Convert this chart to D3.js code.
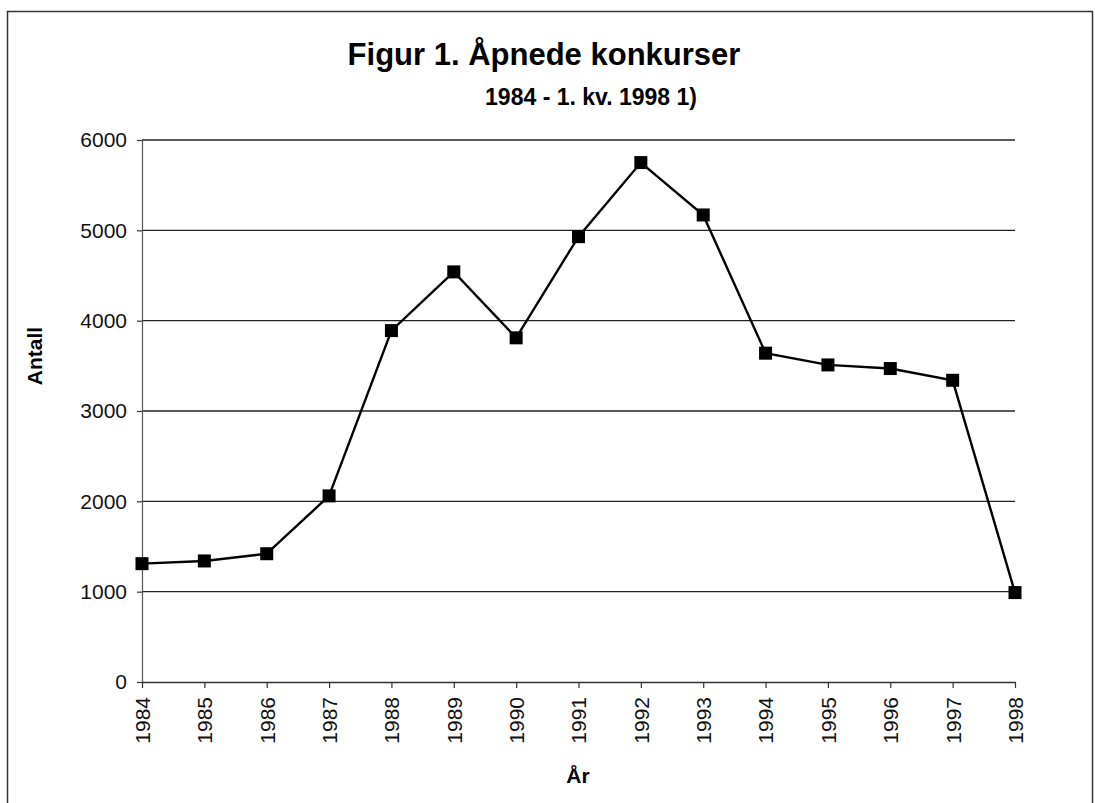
<!DOCTYPE html>
<html lang="no">
    <head>
        <meta charset="UTF-8">
        <title>Figur 1. Åpnede konkurser</title>
        <script src="https://d3js.org/d3.v7.min.js"></script>
        <style>
            body { margin: 0; background: #fff; }
            svg { display: block; font-family: "Liberation Sans", Arial, sans-serif; }
        </style>
    </head>
    <body>
        <script>
            // data
            const years = ["1984","1985","1986","1987","1988","1989","1990","1991","1992","1993","1994","1995","1996","1997","1998"]
            const antall = [1310, 1340, 1420, 2060, 3890, 4540, 3810, 4930, 5750, 5170, 3640, 3510, 3470, 3340, 990]
            const yTicks = [0, 1000, 2000, 3000, 4000, 5000, 6000]

            const W = 1095, H = 803
            const svg = d3.select("body").append("svg")
                .attr("width", W).attr("height", H)

            // frame
            svg.append("rect")
                .attr("x", 7.5).attr("y", 11.5)
                .attr("width", 1085).attr("height", 820)
                .attr("fill", "none").attr("stroke", "#333").attr("stroke-width", 1.5)

            const x = d3.scalePoint().domain(years).range([142, 1015])
            const y = d3.scaleLinear().domain([0, 6000]).range([682, 140])

            // gridlines
            svg.append("g").selectAll("line")
                .data(yTicks.filter(d => d > 0))
                .enter().append("line")
                .attr("x1", 142).attr("x2", 1015)
                .attr("y1", d => y(d)).attr("y2", d => y(d))
                .attr("stroke", "#222").attr("stroke-width", 1.4)

            const yAxis = d3.axisLeft(y).tickValues(yTicks).tickFormat(d3.format("d")).tickSize(5).tickPadding(10)
            const gy = svg.append("g").attr("transform", "translate(142,0)").call(yAxis)
            gy.select(".domain").attr("stroke", "#555").attr("stroke-width", 1.2)
            gy.selectAll(".tick line").attr("stroke", "#333").attr("stroke-width", 1.2)
            gy.selectAll("text").attr("font-size", 21).attr("fill", "#111")
                .attr("font-family", "Liberation Sans, Arial, sans-serif")

            const xAxis = d3.axisBottom(x).tickSize(6).tickSizeOuter(0)
            const gx = svg.append("g").attr("transform", "translate(0,682)").call(xAxis)
            gx.select(".domain").attr("stroke", "#333").attr("stroke-width", 1.6)
            gx.selectAll(".tick line").attr("stroke", "#333").attr("stroke-width", 1.2)
            gx.selectAll("text")
                .attr("font-size", 21).attr("fill", "#111")
                .attr("font-family", "Liberation Sans, Arial, sans-serif")
                .attr("transform", "rotate(-90)")
                .attr("text-anchor", "end")
                .attr("dy", "0.35em")
                .attr("x", -15).attr("y", 0)

            // series
            const line = d3.line().x((d, i) => x(years[i])).y(d => y(d))
            svg.append("path").datum(antall)
                .attr("d", line)
                .attr("fill", "none").attr("stroke", "#000").attr("stroke-width", 2.4)

            svg.append("g").selectAll("rect")
                .data(antall)
                .enter().append("rect")
                .attr("x", (d, i) => x(years[i]) - 6.5)
                .attr("y", d => y(d) - 6.5)
                .attr("width", 13).attr("height", 13)
                .attr("fill", "#000")

            // titles
            svg.append("text").attr("x", 544).attr("y", 65)
                .attr("text-anchor", "middle").attr("font-weight", "bold").attr("font-size", 31)
                .text("Figur 1. Åpnede konkurser")
            svg.append("text").attr("x", 591).attr("y", 105)
                .attr("text-anchor", "middle").attr("font-weight", "bold").attr("font-size", 23)
                .text("1984 - 1. kv. 1998 1)")

            svg.append("text")
                .attr("transform", "translate(42,356) rotate(-90)")
                .attr("text-anchor", "middle").attr("font-weight", "bold").attr("font-size", 21)
                .text("Antall")
            svg.append("text").attr("x", 578).attr("y", 783)
                .attr("text-anchor", "middle").attr("font-weight", "bold").attr("font-size", 21)
                .text("År")
        </script>
    </body>
</html>
